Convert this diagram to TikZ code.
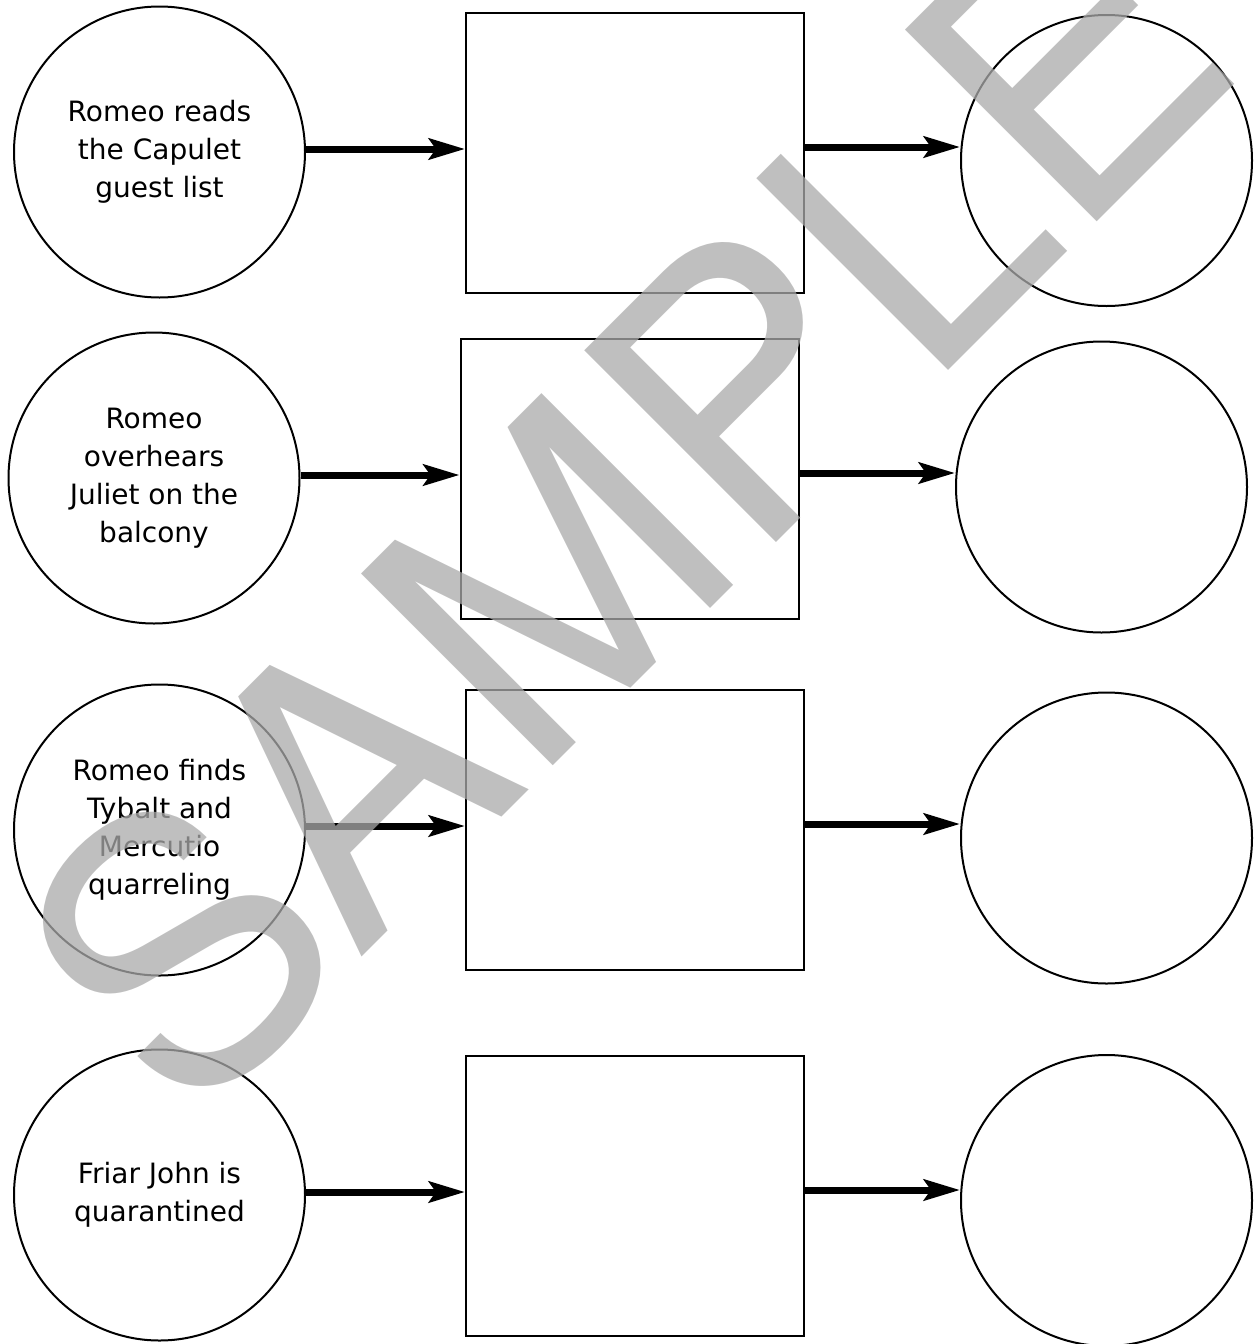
\documentclass[tikz,border=0pt]{standalone}
\usepackage{fontspec}
\setmainfont{DejaVu Sans}
\newfontfamily\wmfont{TeX Gyre Heros}
\usetikzlibrary{arrows.meta}
\definecolor{wmgray}{gray}{0.667}
\begin{document}
\begin{tikzpicture}[x=1pt,y=-1pt,
  evt/.style={circle,draw,line width=2pt,minimum size=291pt,inner sep=0pt,align=center,
    font=\fontsize{28}{38}\selectfont},
  res/.style={circle,draw,line width=2pt,minimum size=291pt,inner sep=0pt},
  box/.style={draw,line width=2pt,minimum width=338pt,minimum height=280pt,inner sep=0pt},
  arr/.style={line width=7pt,-{Stealth[length=36pt,width=21pt,inset=7pt]}},
  wm/.style={rotate=45,anchor=base west,inner sep=0pt,text=wmgray,text opacity=0.75,
    font=\wmfont\fontsize{372}{372}\selectfont}]
\useasboundingbox (0,0) rectangle (1255,1344);
% row 1
\node[evt] (c1) at (159.5,152) {Romeo reads\\the Capulet\\guest list};
\node[box] (r1) at (635,153) {};
\node[res] (e1) at (1106.5,160.5) {};
% row 2
\node[evt] (c2) at (154,478) {Romeo\\overhears\\Juliet on the\\balcony};
\node[box] (r2) at (629.5,478.5) {};
\node[res] (e2) at (1101.5,487) {};
% row 3
\node[evt] (c3) at (159.5,830) {Romeo finds\\Tybalt and\\Mercutio\\quarreling};
\node[box] (r3) at (635,829.5) {};
\node[res] (e3) at (1106.5,838) {};
% row 4
\node[evt] (c4) at (159.5,1195) {Friar John is\\quarantined};
\node[box] (r4) at (635,1195.5) {};
\node[res] (e4) at (1106.5,1200.5) {};
% arrows
\draw[arr] ([yshift=3pt]c1.east) -- ([yshift=3pt]c1.east -| r1.west);
\draw[arr] ([yshift=6pt]r1.east) -- ([yshift=6pt]r1.east -| e1.west);
\draw[arr] ([yshift=3pt]c2.east) -- ([yshift=3pt]c2.east -| r2.west);
\draw[arr] ([yshift=5.5pt]r2.east) -- ([yshift=5.5pt]r2.east -| e2.west);
\draw[arr] ([yshift=4pt]c3.east) -- ([yshift=4pt]c3.east -| r3.west);
\draw[arr] ([yshift=5.5pt]r3.east) -- ([yshift=5.5pt]r3.east -| e3.west);
\draw[arr] ([yshift=3pt]c4.east) -- ([yshift=3pt]c4.east -| r4.west);
\draw[arr] ([yshift=5.5pt]r4.east) -- ([yshift=5.5pt]r4.east -| e4.west);
% watermark
\node[wm] (mark) at (187,1132) {SAMPLE};
\end{tikzpicture}
\end{document}
